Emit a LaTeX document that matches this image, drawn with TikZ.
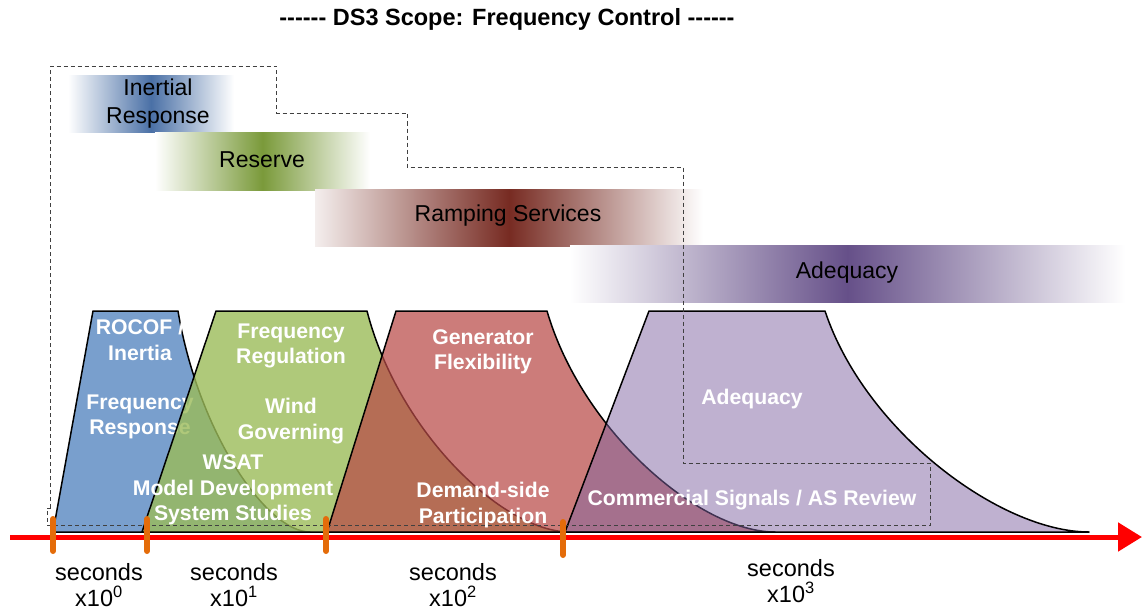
\documentclass[tikz,border=0pt]{standalone}
\usepackage{fontspec}
\setmainfont{Liberation Sans}
\usetikzlibrary{arrows.meta}
\definecolor{cblue}{HTML}{4F81BD}
\definecolor{cgreen}{HTML}{9BBB59}
\definecolor{cred}{HTML}{B84A47}
\definecolor{cpurple}{HTML}{8064A2}
\definecolor{bblue}{HTML}{4A70A6}
\definecolor{bgreen}{HTML}{7A9A3A}
\definecolor{bred}{HTML}{772B22}
\definecolor{bpurple}{HTML}{665089}
\definecolor{corange}{HTML}{E46C0A}
\definecolor{dashgray}{HTML}{404040}
\tikzset{
  bandtxt/.style={font=\fontsize{23}{28}\selectfont, align=center, text=black},
  wlab/.style={font=\bfseries\fontsize{21.2}{25.5}\selectfont, text=white, align=center},
  sectxt/.style={font=\fontsize{23.5}{26.5}\selectfont, align=center, text=black},
  shapeline/.style={draw=black, line width=1.5pt, line join=round},
  scopeline/.style={draw=dashgray, line width=0.9pt, dash pattern=on 4pt off 3pt},
  tickmark/.style={draw=corange, line width=6pt, line cap=round},
}
\begin{document}
\begin{tikzpicture}[x=1pt,y=-1pt]
\useasboundingbox (0,0) rectangle (1142,610);
% title
\node[font=\bfseries\fontsize{23.5}{28}\selectfont] (title) at (507,19) {-{}-{}-{}-{}-{}- DS3 Scope: Frequency Control -{}-{}-{}-{}-{}-};
% gradient bands
\shade[left color=white, right color=white, middle color=bblue] (68,75) rectangle (234,132);
\node[bandtxt] (b1) at (158,104) {Inertial\\Response};
\shade[left color=white, right color=white, middle color=bgreen] (155,132) rectangle (370,190);
\node[bandtxt] (b2) at (262,160) {Reserve};
\shade[left color=white!92!bred, right color=white, middle color=bred] (315,189) rectangle (703,246);
\node[bandtxt] (b3) at (508,216) {Ramping Services};
\shade[left color=white, right color=white, middle color=bpurple] (570,245) rectangle (1125,302);
\node[bandtxt] (b4) at (847,273) {Adequacy};
% blue shape
\path[shapeline, fill=cblue, fill opacity=0.76] (53,532) -- (93,311) -- (178,311) .. controls (198,431) and (266,532) .. (310,532) -- cycle;
\node[wlab] (l1) at (140,340) {ROCOF /\\Inertia};
\node[wlab] (l2) at (140,417) {Frequency\\Response};
% green shape
\path[shapeline, fill=cgreen, fill opacity=0.8] (142,532) -- (216,311) -- (367,311) .. controls (398,431) and (502,532) .. (570,532) -- cycle;
\node[wlab] (l3) at (291,346) {Frequency\\Regulation};
\node[wlab] (l4) at (291,421) {Wind\\Governing};
\node[wlab] (l5) at (233,490) {WSAT\\Model Development\\System Studies};
% red shape
\path[shapeline, fill=cred, fill opacity=0.72] (327,532) -- (396,311) -- (547,311) .. controls (582,431) and (699,532) .. (775,532) -- cycle;
\node[wlab] (l6) at (483,352) {Generator\\Flexibility};
\node[wlab] (l7) at (483,505) {Demand-side\\Participation};
% purple shape
\path[shapeline, fill=cpurple, fill opacity=0.5] (565,532) -- (649,311) -- (825,311) .. controls (865,431) and (1000,532) .. (1089,532) -- cycle;
\node[wlab] (l8) at (752,399) {Adequacy};
\node[wlab] (l9) at (752,500) {Commercial Signals / AS Review};
% scope outline
\draw[scopeline] (50.5,508) -- (50.5,66) -- (276,66) -- (276,113) -- (407,113) -- (407,167) -- (683,167) -- (683,463) -- (930,463) -- (930,525) -- (47,525) -- (47,508) -- cycle;
% axis
\coordinate (ax0) at (10,537);
\coordinate (ax1) at (1142,537);
\draw[red, line width=5pt, -{Triangle[length=24pt,width=28pt]}] (ax0) -- (ax1);
% ticks
\coordinate (t1a) at (53,519); \coordinate (t1b) at (53,551);
\coordinate (t2a) at (147,519); \coordinate (t2b) at (147,551);
\coordinate (t3a) at (326,519); \coordinate (t3b) at (326,551);
\coordinate (t4a) at (563,522); \coordinate (t4b) at (563,555);
\draw[tickmark] (t1a) -- (t1b);
\draw[tickmark] (t2a) -- (t2b);
\draw[tickmark] (t3a) -- (t3b);
\draw[tickmark] (t4a) -- (t4b);
% time labels
\node[sectxt] (s0) at (99,585) {seconds\\x10\textsuperscript{0}};
\node[sectxt] (s1) at (234,585) {seconds\\x10\textsuperscript{1}};
\node[sectxt] (s2) at (453,585) {seconds\\x10\textsuperscript{2}};
\node[sectxt] (s3) at (791,581) {seconds\\x10\textsuperscript{3}};
\end{tikzpicture}
\end{document}
